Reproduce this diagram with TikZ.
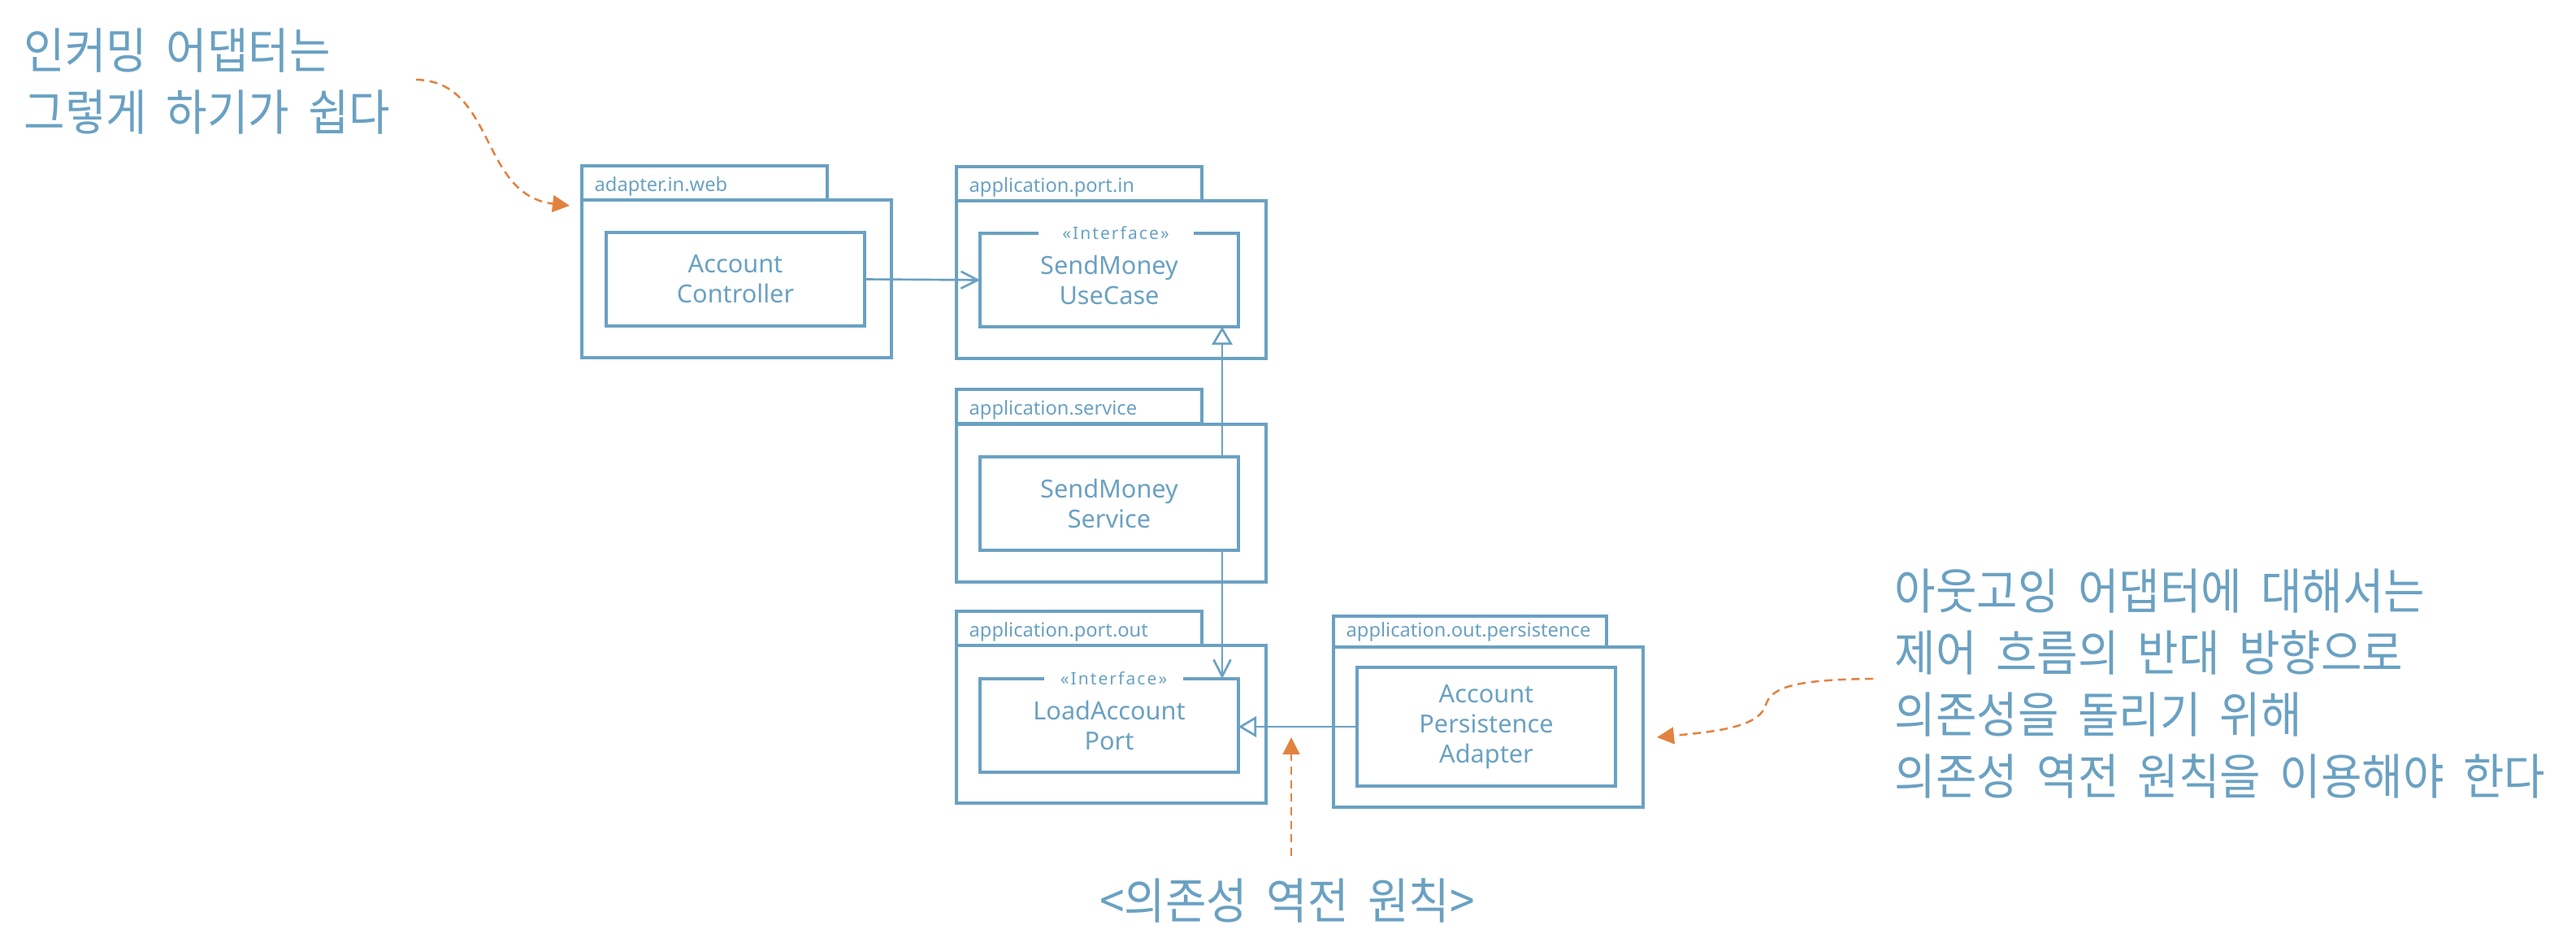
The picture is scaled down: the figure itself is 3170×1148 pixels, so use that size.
\documentclass[tikz,border=0pt]{standalone}
\usepackage{fontspec}
\setmainfont{Noto Sans}
\newfontfamily\kor[FakeStretch=0.915, WordSpace=1.9]{Noto Sans CJK KR}
\newfontfamily\stfont[LetterSpace=10]{Noto Sans}
\usetikzlibrary{arrows.meta}
\definecolor{ublue}{HTML}{6AA1C2}
\definecolor{uorange}{HTML}{E2823F}
\begin{document}
\begin{tikzpicture}[x=0.3pt,y=-0.3pt,
  frame/.style={draw=ublue, line width=1.2pt, anchor=north west, inner sep=0pt, outer sep=0pt},
  tabbox/.style={frame, minimum width=90.6pt, minimum height=12.6pt},
  mainbox/.style={frame, minimum width=114.3pt, minimum height=58.2pt},
  classbox/.style={frame, minimum width=95.4pt, minimum height=34.5pt, align=center,
    text=ublue, font=\fontsize{9.2}{11.1}\selectfont},
  pkglabel/.style={anchor=west, inner sep=0pt, text=ublue, font=\fontsize{7.1}{8}\selectfont},
  stereo/.style={fill=white, inner sep=0pt, minimum width=57.3pt, text=ublue,
    font=\stfont\fontsize{6.3}{7}\selectfont},
  dep/.style={draw=ublue, line width=0.8pt, -{Straight Barb[length=6.2pt, width=6.3pt]}},
  impl/.style={draw=ublue, line width=0.8pt, -{Triangle[open, length=6.6pt, width=7.6pt]}},
  note/.style={inner sep=0pt, text=ublue, align=left, font=\kor\fontsize{18}{22.8}\selectfont},
  orarrow/.style={draw=uorange, line width=0.75pt, dash pattern=on 3pt off 2pt,
    -{Triangle[length=6.3pt, width=6.2pt]}}]
\useasboundingbox (0,0) rectangle (3170,1148);

% adapter.in.web
\node[tabbox] (webtab) at (716,204) {};
\node[mainbox] (webpkg) at (716,246) {};
\node[pkglabel] (weblbl) at ([xshift=4.5pt,yshift=-1.2pt]webtab.west) {adapter.in.web};
\node[classbox] (ctrl) at (746,286) {Account\\Controller};

% application.port.in
\node[tabbox] (intab) at (1177,205) {};
\node[mainbox] (inpkg) at (1177,247) {};
\node[pkglabel] (inlbl) at ([xshift=4.5pt,yshift=-1.2pt]intab.west) {application.port.in};
\node[classbox] (usecase) at (1206,287) {SendMoney\\UseCase};
\node[stereo] (ucst) at ([xshift=2.4pt]usecase.north) {«Interface»};

% application.service
\node[tabbox] (svctab) at (1177,479) {};
\node[mainbox] (svcpkg) at (1177,522) {};
\node[pkglabel] (svclbl) at ([xshift=4.5pt,yshift=-1.2pt]svctab.west) {application.service};
\node[classbox] (svc) at (1206,562) {SendMoney\\Service};

% application.port.out
\node[tabbox] (outtab) at (1177,752) {};
\node[mainbox] (outpkg) at (1177,794) {};
\node[pkglabel] (outlbl) at ([xshift=4.5pt,yshift=-1.2pt]outtab.west) {application.port.out};
\node[classbox] (loadport) at (1206,835) {LoadAccount\\Port};
\node[stereo, minimum width=51.3pt] (lpst) at ([xshift=1.65pt]loadport.north) {«Interface»};

% application.out.persistence
\node[tabbox, minimum width=100.8pt, minimum height=11.4pt] (pertab) at (1641,758) {};
\node[mainbox, minimum height=59.1pt] (perpkg) at (1641,796) {};
\node[pkglabel] (perlbl) at ([xshift=4.5pt]pertab.west) {application.out.persistence};
\node[classbox, minimum height=43.8pt] (persad) at (1670,821) {Account\\Persistence\\Adapter};

% connectors
\coordinate (xl) at (1504,0);
\draw[dep] (ctrl.east) -- (usecase.west);
\draw[impl] (svc.north -| xl) -- (usecase.south -| xl);
\draw[dep] (svc.south -| xl) -- (loadport.north -| xl);
\draw[impl] (persad.west) -- (loadport.east |- persad.west);

% notes
\node[note, anchor=north west] (incoming) at (29,34) {인커밍 어댑터는\\그렇게 하기가 쉽다};
\node[note, anchor=north west] (outgoing) at (2331,699) {아웃고잉 어댑터에 대해서는\\제어 흐름의 반대 방향으로\\의존성을 돌리기 위해\\의존성 역전 원칙을 이용해야 한다};
\node[note, anchor=north] (dip) at (1584,1080) {<의존성 역전 원칙>};

\coordinate (inA) at (512,98);
\coordinate (inB) at (701,253);
\draw[orarrow] (inA) .. controls (610,100) and (590,240) .. (inB);

\coordinate (outA) at (2305,835);
\coordinate (outB) at (2039,907);
\draw[orarrow] (outA) .. controls (2210,836) and (2180,845) .. (2173,867)
  .. controls (2165,895) and (2110,900) .. (outB);

\coordinate (dipA) at (1589,1053);
\coordinate (dipB) at (1589,907);
\draw[orarrow] (dipA) -- (dipB);
\end{tikzpicture}
\end{document}
